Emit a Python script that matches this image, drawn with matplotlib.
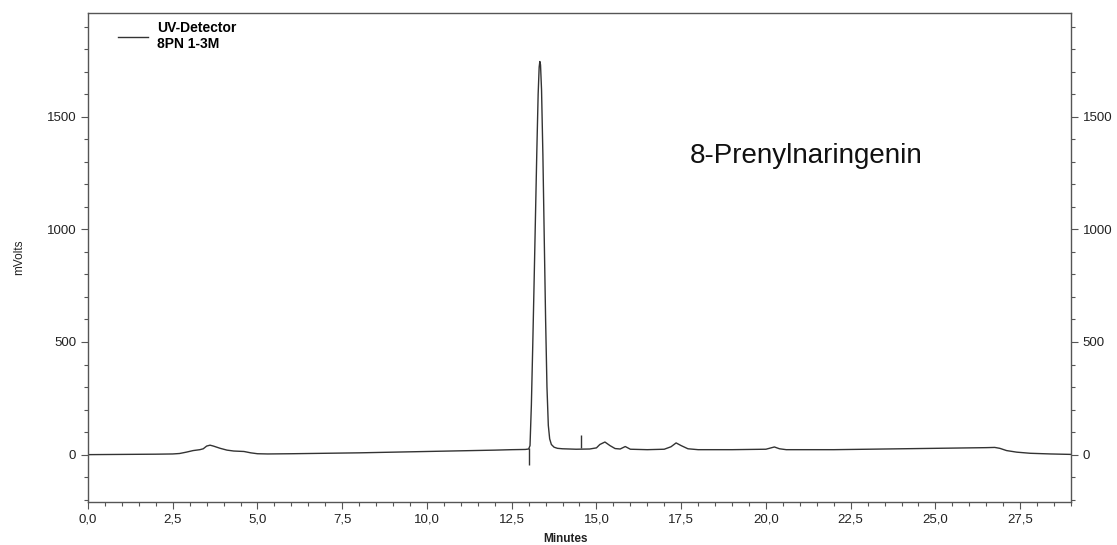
import numpy as np
import matplotlib.pyplot as plt
from matplotlib.ticker import MultipleLocator, FuncFormatter

plt.rcParams['font.family'] = ['Liberation Sans', 'DejaVu Sans']

# chromatogram trace (minutes, mVolts)
t_min = [0.0, 1.0, 2.0, 2.5, 2.7, 2.9, 3.1, 3.3, 3.4, 3.5, 3.6, 3.7, 3.9,
         4.1, 4.3, 4.6, 4.8, 5.0, 5.3, 6.0, 7.0, 8.0, 9.0, 10.0, 11.0, 12.0,
         12.5, 12.9, 13.0, 13.04, 13.08, 13.12, 13.16, 13.2, 13.24, 13.28,
         13.31, 13.33, 13.35, 13.38, 13.42, 13.46, 13.5, 13.54, 13.58, 13.62,
         13.67, 13.75, 13.85, 14.0, 14.4, 14.8, 15.0, 15.1, 15.25, 15.4,
         15.55, 15.7, 15.85, 16.0, 16.5, 17.0, 17.2, 17.35, 17.5, 17.7, 18.0,
         19.0, 20.0, 20.15, 20.25, 20.4, 20.6, 21.0, 22.0, 23.0, 24.0, 25.0,
         26.0, 26.5, 26.75, 26.9, 27.1, 27.4, 27.8, 28.4, 29.0]
mvolts = [0, 1, 2, 3, 5, 11, 18, 22, 26, 38, 42, 38, 28,
          20, 16, 14, 8, 4, 3, 4, 6, 8, 11, 14, 17, 20,
          22, 23, 25, 40, 220, 480, 760, 1050, 1340, 1600,
          1720, 1745, 1730, 1620, 1330, 960, 600, 300, 130, 70,
          45, 33, 28, 26, 24, 25, 30, 45, 56, 40,
          27, 25, 36, 24, 22, 24, 35, 52, 40, 26, 22,
          22, 24, 30, 34, 26, 22, 22, 22, 24, 26, 28,
          30, 31, 32, 28, 18, 11, 6, 3, 1]

# event markers
marker_t = [13.0, 14.55]
marker_lo = [-45, 28]
marker_hi = [30, 85]

x_ticks = [0.0, 2.5, 5.0, 7.5, 10.0, 12.5, 15.0, 17.5, 20.0, 22.5, 25.0, 27.5]
y_ticks = [0, 500, 1000, 1500]

fig = plt.figure(figsize=(11.17, 5.45), dpi=100)
ax = fig.add_axes([0.0788, 0.079, 0.88, 0.897])

ink = '#333333'
ax.plot(t_min, mvolts, color=ink, lw=1.0, label='UV-Detector\n8PN 1-3M')
ax.vlines(marker_t, marker_lo, marker_hi, color=ink, lw=1.0)

ax.set_xlim(0, 29.0)
ax.set_ylim(-210, 1960)
ax.set_xticks(x_ticks)
ax.set_yticks(y_ticks)
ax.xaxis.set_minor_locator(MultipleLocator(0.5))
ax.yaxis.set_minor_locator(MultipleLocator(100))
ax.xaxis.set_major_formatter(FuncFormatter(lambda v, p: ('%.1f' % v).replace('.', ',')))

ax.tick_params(which='both', direction='out', color='#555555', labelsize=9.5,
               labelcolor='#222222', right=True, labelright=True)
ax.tick_params(which='major', length=5, width=0.8)
ax.tick_params(which='minor', length=3, width=0.8)
for s in ax.spines.values():
    s.set_color('#555555')
    s.set_linewidth(1.0)

ax.set_xlabel('Minutes', fontsize=8.5, fontweight='bold', color='#222222')
ax.set_ylabel('mVolts', fontsize=8.5, color='#222222')
ax.xaxis.set_label_coords(0.486, -0.063)
ax.yaxis.set_label_coords(-0.064, 0.5)

leg = ax.legend(loc='upper left', bbox_to_anchor=(0.018, 1.009), frameon=False,
                handlelength=2.15, handletextpad=0.65,
                prop={'size': 10, 'weight': 'bold'})

ax.text(17.76, 1295, '8-Prenylnaringenin', fontsize=20, color='#111111')

fig.savefig('out.png', dpi=100)
